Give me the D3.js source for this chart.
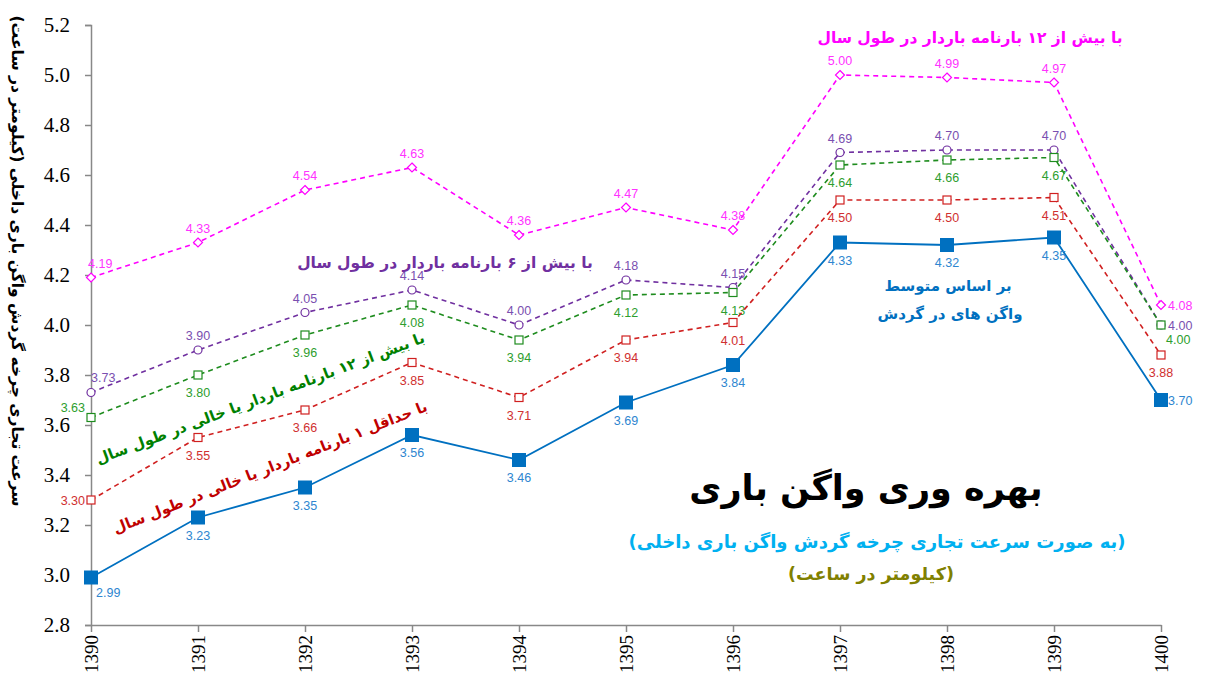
<!DOCTYPE html>
<html><head><meta charset="utf-8">
<script src="https://cdn.jsdelivr.net/npm/d3@7"></script>
<style>body{margin:0;background:#fff}svg{display:block}</style>
</head><body>
<script>
const years = ["1390","1391","1392","1393","1394","1395","1396","1397","1398","1399","1400"];
const avgVals   = [2.99,3.23,3.35,3.56,3.46,3.69,3.84,4.33,4.32,4.35,3.70];
const min1Vals  = [3.30,3.55,3.66,3.85,3.71,3.94,4.01,4.50,4.50,4.51,3.88];
const over12AnyVals = [3.63,3.80,3.96,4.08,3.94,4.12,4.13,4.64,4.66,4.67,4.00];
const over6Vals = [3.73,3.90,4.05,4.14,4.00,4.18,4.15,4.69,4.70,4.70,4.00];
const over12Vals = [4.19,4.33,4.54,4.63,4.36,4.47,4.38,5.00,4.99,4.97,4.08];
const yTicks = [2.8,3.0,3.2,3.4,3.6,3.8,4.0,4.2,4.4,4.6,4.8,5.0,5.2];

const W=1211,H=681;
const svg=d3.select("body").append("svg").attr("width",W).attr("height",H);
const x=d3.scalePoint().domain(years).range([91,1161]);
const y=d3.scaleLinear().domain([2.8,5.2]).range([625,25]);

// axes
const yAxis=svg.append("g").attr("transform","translate(91,0)")
  .call(d3.axisLeft(y).tickValues(yTicks).tickFormat(d3.format(".1f")).tickSize(6));
yAxis.select(".domain").attr("stroke","#888").attr("stroke-width",1.5);
yAxis.selectAll(".tick line").attr("stroke","#888").attr("stroke-width",1.5);
yAxis.selectAll("text").attr("font-family","Liberation Serif").attr("font-size",21).attr("fill","#000").attr("x",-21);

const xAxis=svg.append("g").attr("transform","translate(0,625)")
  .call(d3.axisBottom(x).tickSize(7).tickSizeOuter(0));
xAxis.select(".domain").attr("stroke","#888").attr("stroke-width",1.5);
xAxis.selectAll(".tick line").attr("stroke","#888").attr("stroke-width",1.5);
xAxis.selectAll("text").attr("font-family","Liberation Serif").attr("font-size",19).attr("fill","#000")
  .attr("transform","rotate(-90)").attr("text-anchor","end").attr("x",-10).attr("y",0).attr("dy","0.35em");

// y title
svg.append("text").attr("transform","translate(12,261) rotate(90)")
  .attr("text-anchor","middle").attr("font-family","DejaVu Sans").attr("font-weight","bold")
  .attr("font-size",15.5).attr("direction","rtl").attr("fill","#000")
  .text("سرعت تجاری چرخه گردش واگن باری داخلی (کیلومتر در ساعت)");

const series=[
 {vals:over12Vals,color:"#FF00FF",label:"#FF33FF",marker:"diamond",dash:"5,4",pos:["as","a","a","a","a","a","a","a","a","a","r"]},
 {vals:over6Vals,color:"#7030A0",label:"#7A4FB0",marker:"circle",dash:"5,4",pos:["ar","a","a","a","a","a","a","a","a","a","r"]},
 {vals:over12AnyVals,color:"#1E8C1E",label:"#2E9E2E",marker:"square",dash:"5,4",pos:["l","b","b","b","b","b","b","b","b","b","rb"]},
 {vals:min1Vals,color:"#D02020",label:"#D03030",marker:"square",dash:"5,4",pos:["lc","b","b","b","b","b","b","b","b","b","b"]},
 {vals:avgVals,color:"#0070C0",label:"#2E86D0",marker:"bigsquare",dash:null,pos:["rb","b","b","b","b","b","b","b","b","b","r"]}
];

const line=d3.line().x((d,i)=>x(years[i])).y(d=>y(d));
series.forEach(s=>{
  svg.append("path").attr("d",line(s.vals)).attr("fill","none").attr("stroke",s.color)
    .attr("stroke-width",s.dash?1.6:1.8).attr("stroke-dasharray",s.dash);
  const g=svg.append("g");
  s.vals.forEach((v,i)=>{
    const cx=x(years[i]),cy=y(v);
    if(s.marker==="bigsquare"){
      g.append("rect").attr("x",cx-7).attr("y",cy-7).attr("width",14).attr("height",14).attr("fill",s.color);
    } else if(s.marker==="square"){
      g.append("rect").attr("x",cx-4).attr("y",cy-4).attr("width",8).attr("height",8).attr("fill","#fff").attr("stroke",s.color).attr("stroke-width",1.2);
    } else if(s.marker==="circle"){
      g.append("circle").attr("cx",cx).attr("cy",cy).attr("r",4).attr("fill","#fff").attr("stroke",s.color).attr("stroke-width",1.2);
    } else {
      g.append("path").attr("d",`M${cx},${cy-4.5}L${cx+4.5},${cy}L${cx},${cy+4.5}L${cx-4.5},${cy}Z`).attr("fill","#fff").attr("stroke",s.color).attr("stroke-width",1.2);
    }
    const p=s.pos[i];
    let tx=cx,ty=cy,anchor="middle";
    if(p==="a"){ty=cy-10;}
    else if(p==="as"){tx=cx-3;ty=cy-10;anchor="start";}
    else if(p==="b"){ty=cy+22;}
    else if(p==="l"){tx=cx-6;ty=cy-6;anchor="end";}
    else if(p==="lc"){tx=cx-6;ty=cy+5;anchor="end";}
    else if(p==="r"){tx=cx+7;ty=cy+5;anchor="start";}
    else if(p==="ar"){tx=cx;ty=cy-11;anchor="start";}
    else if(p==="rb"){tx=cx+5;ty=cy+19;anchor="start";}
    g.append("text").attr("x",tx).attr("y",ty).attr("text-anchor",anchor)
      .attr("font-family","Liberation Sans").attr("font-size",12.5).attr("fill",s.label)
      .text(d3.format(".2f")(v));
  });
});

// annotations
function ann(t,xx,yy,color,size,rot){
  svg.append("text").attr("transform",`translate(${xx},${yy}) rotate(${rot||0})`)
    .attr("text-anchor","middle").attr("direction","rtl")
    .attr("font-family","DejaVu Sans").attr("font-weight","bold").attr("font-size",size)
    .attr("fill",color).text(t);
}
ann("با بیش از ۱۲ بارنامه باردار در طول سال",970,43,"#FF00FF",15.5);
ann("با بیش از ۶ بارنامه باردار در طول سال",445,268,"#7030A0",15.5);
ann("با بیش از ۱۲ بارنامه باردار یا خالی در طول سال",262,403,"#008000",14.8,-20.5);
ann("با حداقل ۱ بارنامه باردار یا خالی در طول سال",272,472,"#C00000",14.8,-21.5);
ann("بر اساس متوسط",948,291,"#0070C0",15);
ann("واگن های در گردش",950,319,"#0070C0",15);
ann("بهره وری واگن باری",866,500,"#000",35);
ann("(به صورت سرعت تجاری چرخه گردش واگن باری داخلی)",877,548,"#00B0F0",18);
ann("(کیلومتر در ساعت)",871,580,"#808000",17.5);
</script>
</body></html>
